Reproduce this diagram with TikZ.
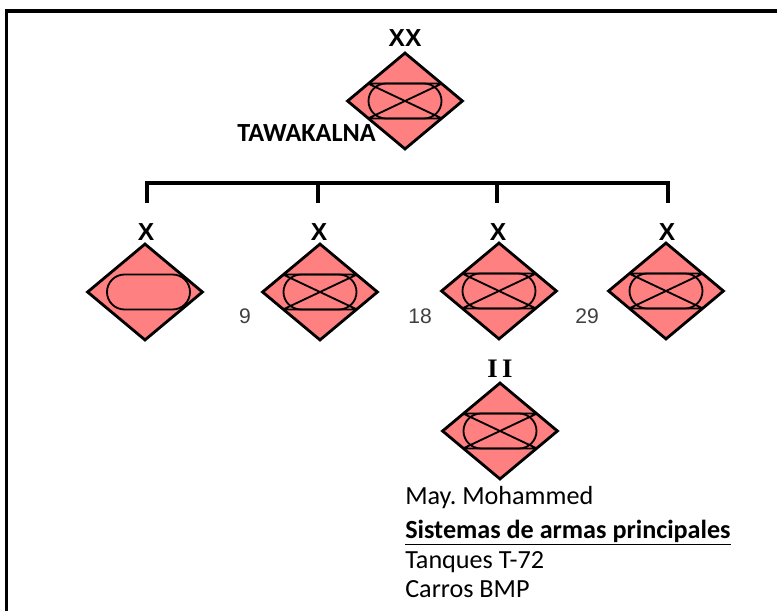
\documentclass[tikz,border=0pt]{standalone}
\usepackage{fontspec}
\setmainfont{Carlito}
\newfontfamily\numfont{Liberation Sans}
\newfontfamily\echfont{Liberation Sans}
\newfontfamily\barfont{Liberation Serif}
\usetikzlibrary{shapes.geometric,positioning,calc}

\definecolor{unitred}{HTML}{FF8080}
\definecolor{numgray}{HTML}{404040}

\tikzset{
  unit/.style={diamond,draw,fill=unitred,line width=2pt,
    minimum width=2.9cm,minimum height=2.425cm,inner sep=0pt},
  symline/.style={line width=1.3pt},
  tree/.style={line width=2.6pt},
  echelon/.style={font=\echfont\bfseries\fontsize{17.5}{17.5}\selectfont,anchor=base,inner sep=0pt},
  numlbl/.style={font=\numfont\fontsize{15}{15}\selectfont,text=numgray,inner sep=0pt},
  txt/.style={font=\fontsize{18.6}{22}\selectfont,anchor=base west,inner sep=0pt},
  mech/.pic={
    \draw[symline] (-37,-17.5) -- (37,-17.5) (-37,17.5) -- (37,17.5)
      (-37,-17.5) -- (37,17.5) (-37,17.5) -- (37,-17.5);
    \draw[symline,rounded corners=0.4375cm] (-36.5,-17.5) rectangle (36.5,17.5);
  },
  armor/.pic={
    \draw[symline,rounded corners=0.4375cm] (-38,-17.5) rectangle (45,17.5);
  }
}

\begin{document}
\begin{tikzpicture}[x=0.025cm,y=-0.025cm]
  \useasboundingbox (0,0) rectangle (777,611);
  \clip (0,0) rectangle (777,611);
  \draw[line width=2.4pt] (6.5,11) rectangle (800,650);

  % division
  \node[unit] (div) at (405,101) {};
  \pic at (div.center) {mech};
  \node[echelon] (divech) at (405,47) {XX};
  \node[font=\bfseries\fontsize{18.6}{18.6}\selectfont,anchor=base east,inner sep=0pt] (divname) at (376,142) {TAWAKALNA};

  % brigades
  \node[unit] (b1) at (145,292) {};
  \node[unit] (b2) at (320,292) {};
  \node[unit] (b3) at (499,291) {};
  \node[unit] (b4) at (666,291) {};
  \pic at (b1.center) {armor};
  \pic at (b2.center) {mech};
  \pic at (b3.center) {mech};
  \pic at (b4.center) {mech};
  \foreach \b/\x in {b1/146,b2/319,b3/498,b4/667}
    \node[echelon] (\b ech) at (\x,240) {X};

  \node[numlbl] (n9) at (245,316) {9};
  \node[numlbl] (n18) at (420,316) {18};
  \node[numlbl] (n29) at (587,316) {29};

  % tree
  \coordinate (t1) at (147,203);
  \coordinate (t2) at (318,203);
  \coordinate (t3) at (497,203);
  \coordinate (t4) at (668,203);
  \coordinate (bar) at (405,183);
  \draw[tree] (t1) |- (bar) -| (t4);
  \draw[tree] (t2) -- (t2 |- bar);
  \draw[tree] (t3) -- (t3 |- bar);

  % battalion
  \node[unit] (bn) at (500,431) {};
  \pic at (bn.center) {mech};
  \node[font=\barfont\bfseries\fontsize{19}{19}\selectfont,anchor=base,inner sep=0pt] (bnech) at (500,377) {I\hspace{3pt}I};

  \node[txt] (cmdr) at (405,504) {May.\ Mohammed};
  \node[txt] (sys) at (405,538) {\textbf{\underline{Sistemas de armas principales}}};
  \node[txt] (tank) at (405,568) {Tanques T-72};
  \node[txt] (ifv) at (405,597) {Carros BMP};
\end{tikzpicture}
\end{document}
